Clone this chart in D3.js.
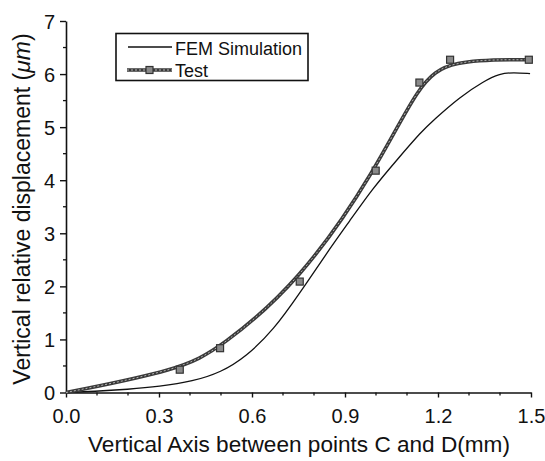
<!DOCTYPE html>
<html>
<head>
<meta charset="utf-8">
<script src="https://cdn.jsdelivr.net/npm/d3@7"></script>
<style>
  html, body { margin: 0; padding: 0; background: #fff; }
  svg { display: block; font-family: Arial, "Liberation Sans", sans-serif; }
</style>
</head>
<body>
<svg id="chart" width="545" height="461"></svg>
<script>
// FEM simulation: vertical relative displacement along axis C–D
const femX = [0, 0.09, 0.2, 0.3, 0.41, 0.5, 0.58, 0.67, 0.755, 0.84, 0.916, 0.99, 1.067, 1.147, 1.185, 1.271, 1.346, 1.40, 1.443, 1.497];
const femY = [0, 0.02, 0.06, 0.11, 0.21, 0.38, 0.67, 1.18, 1.88, 2.62, 3.24, 3.85, 4.38, 4.92, 5.13, 5.57, 5.86, 6.01, 6.03, 6.01];

// Measured test points
const testX = [0, 0.367, 0.497, 0.754, 0.999, 1.140, 1.239, 1.493];
const testY = [0, 0.43, 0.835, 2.09, 4.18, 5.84, 6.27, 6.27];

const xMajorTicks = [0, 0.3, 0.6, 0.9, 1.2, 1.5];
const yMajorTicks = [0, 1, 2, 3, 4, 5, 6, 7];
const legendLabels = ["FEM Simulation", "Test"];

const svg = d3.select("#chart");
const plot = { left: 66, right: 531, top: 21, bottom: 392.5 };

const x = d3.scaleLinear().domain([0, 1.5]).range([plot.left, plot.right]);
const y = d3.scaleLinear().domain([0, 7]).range([plot.bottom, plot.top]);

const fem = femX.map((v, i) => [v, femY[i]]);
const test = testX.map((v, i) => [v, testY[i]]);

// Axes: major ticks labelled, minor ticks shorter
const xMinor = d3.range(0, 1.5001, 0.1).filter(v => !xMajorTicks.some(t => Math.abs(t - v) < 1e-6));
const yMinor = d3.range(0.5, 7, 1);

const gx = svg.append("g").attr("transform", `translate(0,${plot.bottom})`);
gx.call(d3.axisBottom(x).tickValues(xMajorTicks).tickFormat(d3.format(".1f")).tickSizeInner(5).tickSizeOuter(0).tickPadding(9));
gx.selectAll(".domain").attr("stroke", "#111").attr("stroke-width", 1.6);
gx.selectAll(".tick line").attr("stroke", "#111").attr("stroke-width", 1.4);
gx.selectAll(".tick text").attr("font-size", 20).attr("fill", "#111").attr("dy", "0.8em");
gx.selectAll(".minor").data(xMinor).enter().append("line")
  .attr("class", "minor")
  .attr("x1", d => x(d)).attr("x2", d => x(d))
  .attr("y1", 0).attr("y2", 3)
  .attr("stroke", "#111").attr("stroke-width", 1.3);

const gy = svg.append("g").attr("transform", `translate(${plot.left},0)`);
gy.call(d3.axisLeft(y).tickValues(yMajorTicks).tickFormat(d3.format("d")).tickSizeInner(6).tickSizeOuter(0).tickPadding(5));
gy.selectAll(".domain").attr("stroke", "#111").attr("stroke-width", 1.6);
gy.selectAll(".tick line").attr("stroke", "#111").attr("stroke-width", 1.4);
gy.selectAll(".tick text").attr("font-size", 20).attr("fill", "#111").attr("dy", "0.36em");
gy.selectAll(".minor").data(yMinor).enter().append("line")
  .attr("class", "minor")
  .attr("y1", d => y(d)).attr("y2", d => y(d))
  .attr("x1", 0).attr("x2", -3)
  .attr("stroke", "#111").attr("stroke-width", 1.3);

// Axis titles
svg.append("text")
  .attr("x", 299).attr("y", 452)
  .attr("text-anchor", "middle")
  .attr("font-size", 22.6).attr("fill", "#111")
  .text("Vertical Axis between points C and D(mm)");

const yt = svg.append("text")
  .attr("transform", "translate(30,209) rotate(-90)")
  .attr("text-anchor", "middle")
  .attr("font-size", 23).attr("fill", "#111");
yt.append("tspan").text("Vertical relative displacement (");
yt.append("tspan").attr("font-style", "italic").text("μm");
yt.append("tspan").text(")");

// Curves (both smoothed with B-splines)
const femLine = d3.line().x(d => x(d[0])).y(d => y(d[1])).curve(d3.curveBasis);
const testLine = d3.line().x(d => x(d[0])).y(d => y(d[1])).curve(d3.curveBasis);

svg.append("path").datum(fem)
  .attr("d", femLine).attr("fill", "none")
  .attr("stroke", "#111").attr("stroke-width", 1.3);

svg.append("path").datum(test)
  .attr("d", testLine).attr("fill", "none")
  .attr("stroke", "#3a3a3a").attr("stroke-width", 3.6);
svg.append("path").datum(test)
  .attr("d", testLine).attr("fill", "none")
  .attr("stroke", "#b5b5b5").attr("stroke-width", 1)
  .attr("stroke-dasharray", "2,2");

const ms = 7;
svg.selectAll(".mk").data(test.slice(1)).enter().append("rect")
  .attr("class", "mk")
  .attr("x", d => x(d[0]) - ms / 2).attr("y", d => y(d[1]) - ms / 2)
  .attr("width", ms).attr("height", ms)
  .attr("fill", "#8a8a8a").attr("stroke", "#333").attr("stroke-width", 1.2);

// Legend
const lg = svg.append("g");
lg.append("rect")
  .attr("x", 116).attr("y", 33.5).attr("width", 192).attr("height", 47)
  .attr("fill", "#fff").attr("stroke", "#111").attr("stroke-width", 1.6);
lg.append("line").attr("x1", 128).attr("x2", 172).attr("y1", 47).attr("y2", 47)
  .attr("stroke", "#111").attr("stroke-width", 1.3);
lg.append("line").attr("x1", 127).attr("x2", 172).attr("y1", 70).attr("y2", 70)
  .attr("stroke", "#3a3a3a").attr("stroke-width", 3.6);
lg.append("line").attr("x1", 127).attr("x2", 172).attr("y1", 70).attr("y2", 70)
  .attr("stroke", "#b5b5b5").attr("stroke-width", 1).attr("stroke-dasharray", "2,2");
lg.append("rect").attr("x", 149.5 - ms / 2).attr("y", 70 - ms / 2).attr("width", ms).attr("height", ms)
  .attr("fill", "#8a8a8a").attr("stroke", "#333").attr("stroke-width", 1.2);
lg.selectAll(".lt").data(legendLabels).enter().append("text")
  .attr("class", "lt")
  .attr("x", 175).attr("y", (d, i) => 55 + i * 21.5)
  .attr("font-size", 18).attr("fill", "#111")
  .text(d => d);
</script>
</body>
</html>
